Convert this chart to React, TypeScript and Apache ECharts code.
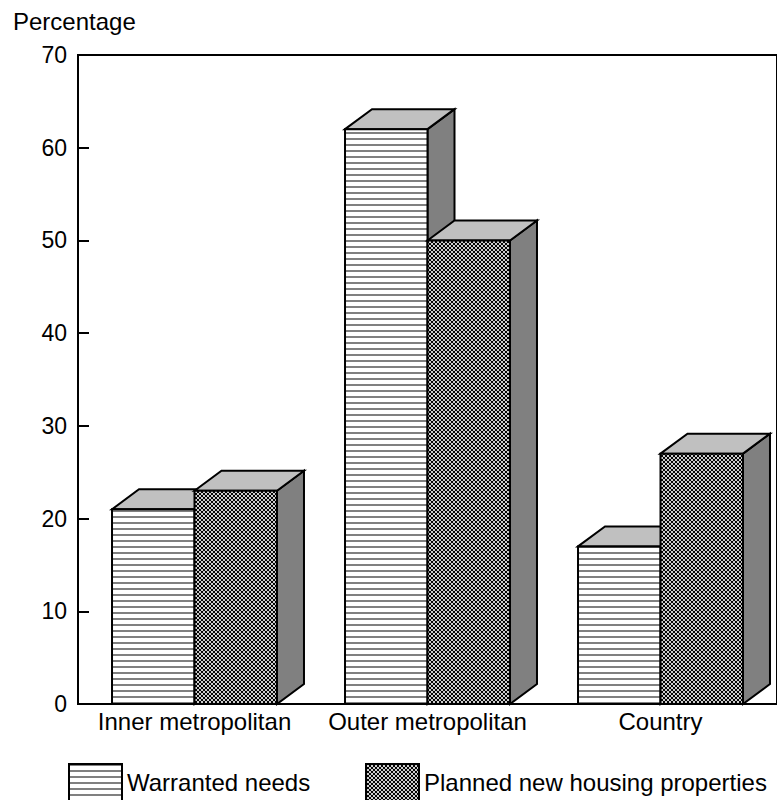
import React, { useEffect, useRef } from "react";
import * as echarts from "echarts";

const categories = ["Inner metropolitan", "Outer metropolitan", "Country"];
const seriesNames = ["Warranted needs", "Planned new housing properties"];
const warrantedNeeds = [21, 62, 17];
const plannedHousing = [23, 50, 27];
const yAxisTitle = "Percentage";
const yMin = 0;
const yMax = 70;
const yInterval = 10;

const FONT = "'Liberation Sans', Arial, sans-serif";
const BAR_FRAC = 0.354;
const DX = 27;
const DY = 20;

function makeStripe(): HTMLCanvasElement {
  const c = document.createElement("canvas");
  c.width = 8;
  c.height = 6;
  const g = c.getContext("2d")!;
  g.fillStyle = "#ffffff";
  g.fillRect(0, 0, 8, 6);
  g.fillStyle = "#808080";
  g.fillRect(0, 0, 8, 2);
  return c;
}

function makeCross(): HTMLCanvasElement {
  const c = document.createElement("canvas");
  c.width = 4;
  c.height = 4;
  const g = c.getContext("2d")!;
  g.fillStyle = "#000000";
  g.fillRect(0, 0, 4, 4);
  g.fillStyle = "#ffffff";
  const pts = [
    [0, 0],
    [4, 0],
    [0, 4],
    [4, 4],
    [2, 2],
  ];
  for (const [x, y] of pts) {
    g.beginPath();
    g.arc(x, y, 1.1, 0, Math.PI * 2);
    g.fill();
  }
  return c;
}

export default function App() {
  const ref = useRef<HTMLDivElement>(null);

  useEffect(() => {
    document.body.style.margin = "0";
    if (!ref.current) return;
    const chart = echarts.init(ref.current, undefined, { renderer: "svg" });

    const stripe = { image: makeStripe(), repeat: "repeat", imageWidth: 8, imageHeight: 6 };
    const cross = { image: makeCross(), repeat: "repeat", imageWidth: 4, imageHeight: 4 };
    const patterns = [stripe, cross];

    const makeRender = (s: number) => (params: any, api: any) => {
      const idx = api.value(0);
      const val = api.value(1);
      const base = api.coord([idx, 0]);
      const top = api.coord([idx, val]);
      const cx = base[0];
      const y0 = base[1];
      const y1 = top[1];
      const bw = api.size([1, 0])[0] * BAR_FRAC;
      const xa = s === 0 ? cx - bw : cx;
      const xb = xa + bw;
      const stroke = { stroke: "#000", lineWidth: 2, lineJoin: "miter" };
      return {
        type: "group",
        children: [
          {
            type: "polygon",
            shape: { points: [[xb, y1], [xb + DX, y1 - DY], [xb + DX, y0 - DY], [xb, y0]] },
            style: { fill: "#808080", ...stroke },
          },
          {
            type: "polygon",
            shape: { points: [[xa, y1], [xa + DX, y1 - DY], [xb + DX, y1 - DY], [xb, y1]] },
            style: { fill: "#c0c0c0", ...stroke },
          },
          {
            type: "rect",
            shape: { x: xa, y: y1, width: bw, height: y0 - y1 },
            style: { fill: patterns[s], ...stroke },
          },
        ],
      };
    };

    const seriesData = [warrantedNeeds, plannedHousing];

    const legendCommon = {
      top: 763,
      itemWidth: 53,
      itemHeight: 37,
      itemGap: 0,
      padding: 0,
      selectedMode: false,
      textStyle: { fontSize: 24, color: "#000", fontFamily: FONT },
    };

    chart.setOption({
      animation: false,
      backgroundColor: "#fff",
      title: {
        text: yAxisTitle,
        left: 13,
        top: 9,
        padding: 0,
        textStyle: { fontSize: 24, fontWeight: "normal", color: "#000", fontFamily: FONT },
      },
      legend: [
        {
          ...legendCommon,
          left: 68,
          data: [
            {
              name: seriesNames[0],
              icon: "rect",
              itemStyle: { color: stripe, borderColor: "#000", borderWidth: 2 },
            },
          ],
        },
        {
          ...legendCommon,
          left: 365,
          data: [
            {
              name: seriesNames[1],
              icon: "rect",
              itemStyle: { color: cross, borderColor: "#000", borderWidth: 2 },
            },
          ],
        },
      ],
      grid: {
        left: 78,
        top: 55,
        width: 700,
        height: 649,
        show: true,
        borderColor: "#000",
        borderWidth: 2,
        backgroundColor: "transparent",
      },
      xAxis: {
        type: "category",
        data: categories,
        boundaryGap: true,
        axisLine: { lineStyle: { color: "#000", width: 2 } },
        axisTick: { inside: true, length: 11, interval: 0, lineStyle: { color: "#000", width: 2 } },
        axisLabel: { fontSize: 24, color: "#000", fontFamily: FONT, margin: 5, interval: 0 },
        splitLine: { show: false },
      },
      yAxis: {
        type: "value",
        min: yMin,
        max: yMax,
        interval: yInterval,
        axisLine: { show: true, lineStyle: { color: "#000", width: 2 } },
        axisTick: { show: true, inside: true, length: 11, lineStyle: { color: "#000", width: 2 } },
        axisLabel: { fontSize: 23, color: "#000", fontFamily: FONT, margin: 11 },
        splitLine: { show: false },
      },
      series: seriesNames.map((name, s) => ({
        type: "custom",
        name,
        renderItem: makeRender(s),
        encode: { x: 0, y: 1 },
        itemStyle: { color: patterns[s] },
        data: seriesData[s].map((v, i) => [i, v]),
        z: 2 + s,
      })),
    });

    return () => chart.dispose();
  }, []);

  return <div ref={ref} style={{ width: 777, height: 800 }} />;
}
